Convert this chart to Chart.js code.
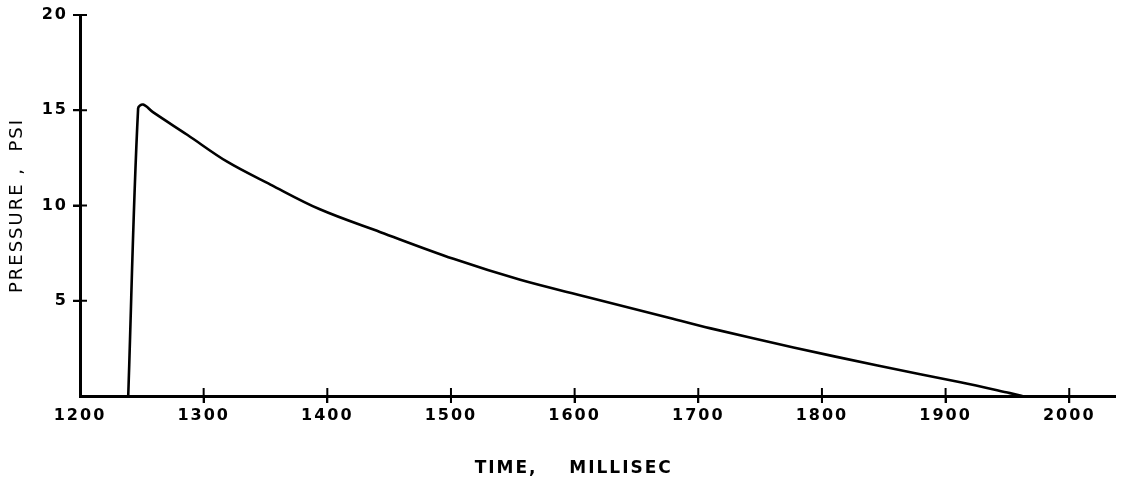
<!DOCTYPE html>
<html>
<head>
<meta charset="utf-8">
<script src="https://cdn.jsdelivr.net/npm/chart.js@4.4.1/dist/chart.umd.min.js"></script>
<style>
  html, body { margin: 0; padding: 0; background: #ffffff; }
  #wrap { width: 1136px; height: 489px; position: relative; }
</style>
</head>
<body>
<div id="wrap"><canvas id="c" width="1136" height="489"></canvas></div>
<script>
// Time (ms) and pressure (psi)
const timeMs      = [1239, 1247, 1251, 1259, 1287, 1319, 1354, 1394, 1443, 1502, 1556, 1610, 1677, 1710, 1777, 1845, 1912, 1952, 1962];
const pressurePsi = [0,    15.1, 15.3, 14.9, 13.7, 12.3, 11.1, 9.8,  8.6,  7.2,  6.1,  5.2,  4.1,  3.55, 2.55, 1.6,  0.72, 0.15, 0];

const xTickValues = [1200, 1300, 1400, 1500, 1600, 1700, 1800, 1900, 2000];
const yTickValues = [5, 10, 15, 20];

const xTitle = 'TIME,    MILLISEC      ';
const yTitle = 'PRESSURE ,  PSI';

const points = timeMs.map((t, i) => ({ x: t, y: pressurePsi[i] }));

const INK = '#000000';
const FONT = 'DejaVu Sans';

// draws the inner half of each tick so ticks cross the axis like the original
const crossTicks = {
  id: 'crossTicks',
  afterDraw(chart) {
    const ctx = chart.ctx;
    const xs = chart.scales.x, ys = chart.scales.y;
    const area = chart.chartArea;
    ctx.save();
    ctx.strokeStyle = INK;
    ctx.lineWidth = 2;
    xTickValues.forEach((v) => {
      if (v === 1200) return;
      const px = xs.getPixelForValue(v);
      ctx.beginPath();
      ctx.moveTo(px, area.bottom + 7);
      ctx.lineTo(px, area.bottom - 8);
      ctx.stroke();
    });
    yTickValues.forEach((v) => {
      const py = ys.getPixelForValue(v);
      ctx.beginPath();
      ctx.moveTo(area.left - 7, py);
      ctx.lineTo(area.left + 7, py);
      ctx.stroke();
    });
    ctx.restore();
  }
};

const spacingPlugin = {
  id: 'spacing',
  beforeLayout(chart) { chart.ctx.letterSpacing = '2px'; },
  beforeDraw(chart) { chart.ctx.letterSpacing = '2px'; }
};

new Chart(document.getElementById('c'), {
  type: 'line',
  data: {
    datasets: [{
      data: points,
      borderColor: INK,
      borderWidth: 2.6,
      pointRadius: 0,
      fill: false,
      tension: 0.35,
      borderJoinStyle: 'round',
      borderCapStyle: 'round'
    }]
  },
  options: {
    responsive: false,
    animation: false,
    devicePixelRatio: 1,
    layout: { padding: { top: 15, right: 21, bottom: 0, left: 0 } },
    plugins: { legend: { display: false }, tooltip: { enabled: false } },
    scales: {
      x: {
        type: 'linear',
        min: 1200,
        max: 2037,
        afterBuildTicks: (s) => { s.ticks = xTickValues.map(v => ({ value: v })); },
        afterFit: (s) => { s.height = 93; },
        border: { display: true, color: INK, width: 3 },
        grid: {
          drawOnChartArea: false,
          drawTicks: true,
          tickLength: 7,
          lineWidth: 2,
          color: (c) => (c.tick && c.tick.value === 1200 ? 'rgba(0,0,0,0)' : INK)
        },
        ticks: {
          color: INK,
          padding: 3,
          maxRotation: 0,
          font: { family: FONT, size: 16, weight: 'bold' },
          callback: (v) => String(v)
        },
        title: {
          display: true,
          text: xTitle,
          color: INK,
          font: { family: FONT, size: 17, weight: 'bold' },
          padding: { top: 0, bottom: 10 }
        }
      },
      y: {
        type: 'linear',
        min: 0,
        max: 20,
        afterBuildTicks: (s) => { s.ticks = yTickValues.map(v => ({ value: v })); },
        afterFit: (s) => { s.width = 80; },
        border: { display: true, color: INK, width: 3 },
        grid: {
          drawOnChartArea: false,
          drawTicks: true,
          tickLength: 7,
          lineWidth: 2,
          color: INK
        },
        ticks: {
          color: INK,
          padding: 5,
          font: { family: FONT, size: 16, weight: 'bold' },
          callback: (v) => String(v)
        },
        title: {
          display: true,
          text: yTitle,
          color: INK,
          font: { family: FONT, size: 18 },
          padding: { top: 7, bottom: 0 }
        }
      }
    }
  },
  plugins: [crossTicks, spacingPlugin]
});
</script>
</body>
</html>
